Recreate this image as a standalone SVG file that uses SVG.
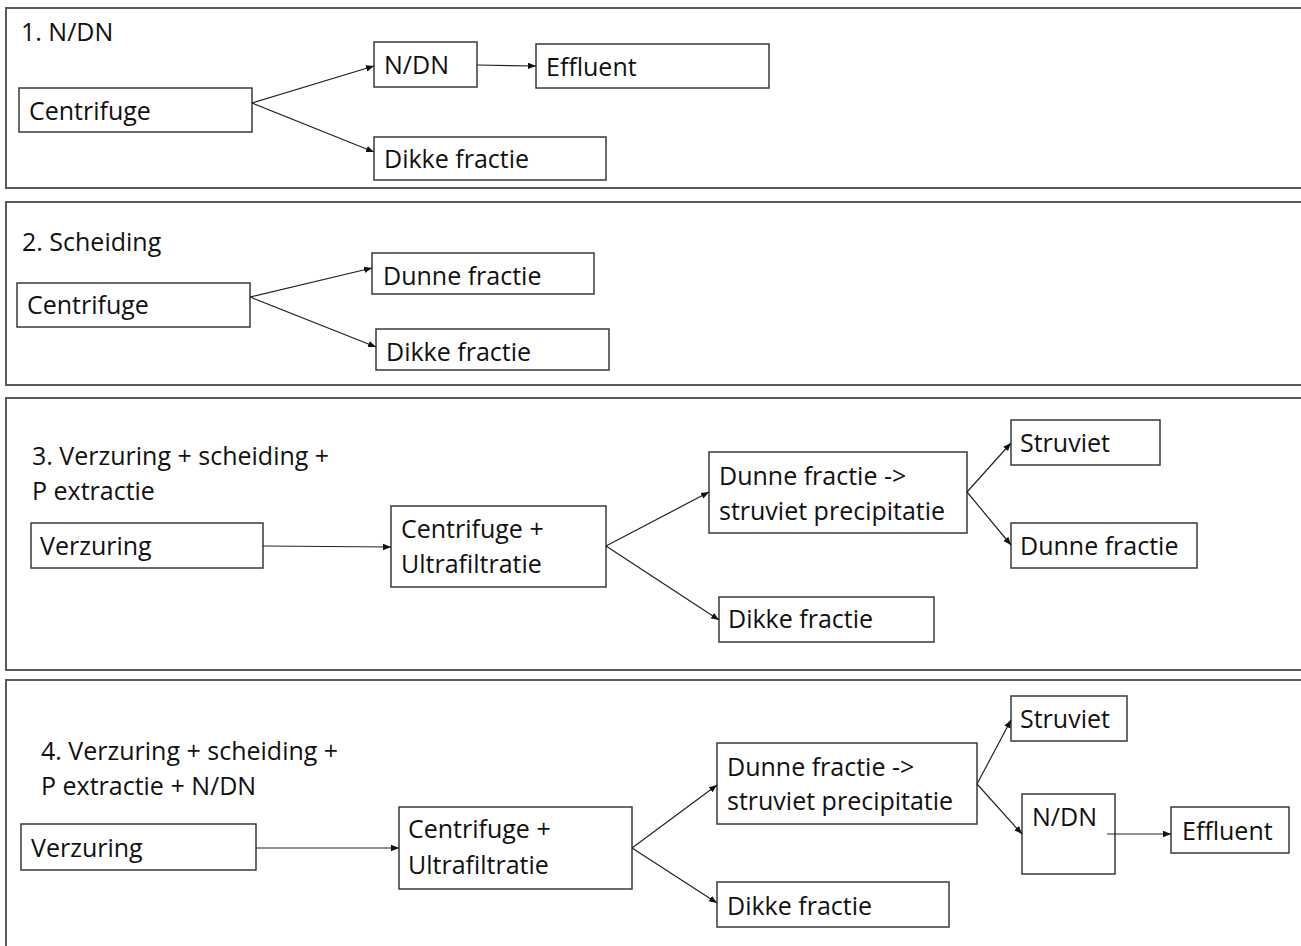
<svg xmlns="http://www.w3.org/2000/svg" width="1301" height="946" viewBox="0 0 1301 946">
<style>
.panel{fill:none;stroke:#5a5a5a;stroke-width:2}
.box{fill:#fff;stroke:#3a3a3a;stroke-width:1.5}
.t{font-family:"Open Sans","Liberation Sans",sans-serif;font-size:25px;fill:#111}
.c{fill:none;stroke:#222;stroke-width:1.2;marker-end:url(#ah)}
</style>
<defs>
<marker id="ah" markerUnits="userSpaceOnUse" markerWidth="9" markerHeight="8" refX="8" refY="4" orient="auto">
<path d="M0,0.8 L8,4 L0,7.2 Z" fill="#111"/>
</marker>
</defs>
<rect width="1301" height="946" fill="#fff"/>
<g id="panels">
<rect class="panel" x="6" y="8" width="1310" height="180"/>
<rect class="panel" x="6" y="202" width="1310" height="183"/>
<rect class="panel" x="6" y="398" width="1310" height="272"/>
<rect class="panel" x="6" y="680" width="1310" height="280"/>
</g>
<g id="titles">
<text class="t" x="21" y="41">1. N/DN</text>
<text class="t" x="22" y="251">2. Scheiding</text>
<text class="t" x="32" y="465">3. Verzuring + scheiding +</text>
<text class="t" x="32" y="500">P extractie</text>
<text class="t" x="41" y="760">4. Verzuring + scheiding +</text>
<text class="t" x="41" y="795">P extractie + N/DN</text>
</g>
<g id="p1-centrifuge"><rect class="box" x="19" y="88" width="233" height="44"/><text class="t" x="29" y="120">Centrifuge</text></g>
<g id="p1-ndn"><rect class="box" x="374" y="42" width="103" height="45"/><text class="t" x="384" y="74">N/DN</text></g>
<g id="p1-effluent"><rect class="box" x="536" y="44" width="233" height="44"/><text class="t" x="546" y="76">Effluent</text></g>
<g id="p1-dikke"><rect class="box" x="374" y="137" width="232" height="43"/><text class="t" x="384" y="168">Dikke fractie</text></g>
<g id="p2-centrifuge"><rect class="box" x="17" y="283" width="233" height="44"/><text class="t" x="27" y="314">Centrifuge</text></g>
<g id="p2-dunne"><rect class="box" x="372" y="253" width="222" height="41"/><text class="t" x="383" y="285">Dunne fractie</text></g>
<g id="p2-dikke"><rect class="box" x="376" y="329" width="233" height="41"/><text class="t" x="386" y="361">Dikke fractie</text></g>
<g id="p3-verzuring"><rect class="box" x="31" y="523" width="232" height="45"/><text class="t" x="40" y="555">Verzuring</text></g>
<g id="p3-centrifuge"><rect class="box" x="391" y="506" width="215" height="81"/><text class="t" x="401" y="538">Centrifuge +</text><text class="t" x="401" y="573">Ultrafiltratie</text></g>
<g id="p3-dunne-precip"><rect class="box" x="709" y="452" width="258" height="81"/><text class="t" x="719" y="485">Dunne fractie -&gt;</text><text class="t" x="719" y="520">struviet precipitatie</text></g>
<g id="p3-struviet"><rect class="box" x="1011" y="420" width="149" height="45"/><text class="t" x="1020" y="452">Struviet</text></g>
<g id="p3-dunne"><rect class="box" x="1011" y="523" width="186" height="45"/><text class="t" x="1020" y="555">Dunne fractie</text></g>
<g id="p3-dikke"><rect class="box" x="719" y="597" width="215" height="45"/><text class="t" x="728" y="628">Dikke fractie</text></g>
<g id="p4-verzuring"><rect class="box" x="21" y="824" width="235" height="46"/><text class="t" x="31" y="857">Verzuring</text></g>
<g id="p4-centrifuge"><rect class="box" x="399" y="807" width="233" height="82"/><text class="t" x="408" y="838">Centrifuge +</text><text class="t" x="408" y="874">Ultrafiltratie</text></g>
<g id="p4-dunne-precip"><rect class="box" x="717" y="743" width="260" height="81"/><text class="t" x="727" y="776">Dunne fractie -&gt;</text><text class="t" x="727" y="810">struviet precipitatie</text></g>
<g id="p4-struviet"><rect class="box" x="1011" y="696" width="116" height="45"/><text class="t" x="1020" y="728">Struviet</text></g>
<g id="p4-ndn"><rect class="box" x="1022" y="794" width="93" height="80"/><text class="t" x="1032" y="826">N/DN</text></g>
<g id="p4-effluent"><rect class="box" x="1171" y="807" width="118" height="46"/><text class="t" x="1182" y="840">Effluent</text></g>
<g id="p4-dikke"><rect class="box" x="717" y="882" width="232" height="45"/><text class="t" x="727" y="915">Dikke fractie</text></g>
<g id="connectors">
<line class="c" x1="252" y1="103" x2="374" y2="66"/>
<line class="c" x1="252" y1="103" x2="374" y2="152"/>
<line class="c" x1="477" y1="65" x2="536" y2="66"/>
<line class="c" x1="250" y1="297" x2="372" y2="268"/>
<line class="c" x1="250" y1="297" x2="376" y2="347"/>
<line class="c" x1="263" y1="546" x2="391" y2="547"/>
<line class="c" x1="606" y1="546" x2="709" y2="492"/>
<line class="c" x1="606" y1="546" x2="719" y2="620"/>
<line class="c" x1="967" y1="492" x2="1011" y2="443"/>
<line class="c" x1="967" y1="492" x2="1011" y2="545"/>
<line class="c" x1="256" y1="848" x2="399" y2="848"/>
<line class="c" x1="632" y1="848" x2="717" y2="785"/>
<line class="c" x1="632" y1="848" x2="717" y2="903"/>
<line class="c" x1="977" y1="784" x2="1011" y2="720"/>
<line class="c" x1="977" y1="784" x2="1022" y2="834"/>
<line class="c" x1="1107" y1="834" x2="1171" y2="834"/>
</g>
</svg>
